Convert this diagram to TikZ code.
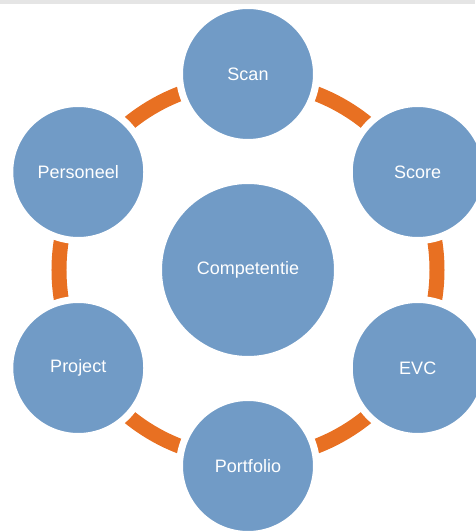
\documentclass[tikz,border=0pt]{standalone}
\usepackage{fontspec}
\setmainfont{Liberation Sans}
\begin{document}
\begin{tikzpicture}[x=1pt,y=1pt,
  bubble/.style={circle,fill=cblue,draw=white,line width=2pt,minimum size=132pt,inner sep=0pt,text=white,font=\fontsize{18}{21}\selectfont},
  hub/.style={bubble,minimum size=174pt},
  conn/.style={draw=corange,line width=15pt,line cap=butt},
  halo/.style={fill=white}]
\definecolor{cblue}{RGB}{113,155,198}
\definecolor{corange}{RGB}{232,112,34}
\definecolor{cgrey}{RGB}{229,229,229}
\useasboundingbox (-248,-262) rectangle (227,270);
\coordinate (c) at (0,0);
\coordinate (pscan) at (90:196);
\coordinate (pscore) at (30:196);
\coordinate (pevc) at (-30:196);
\coordinate (pportfolio) at (-90:196);
\coordinate (pproject) at (-150:196);
\coordinate (ppersoneel) at (150:196);
% connectors: ring arcs, cut back by a white halo round each bubble
\foreach \a in {90,30,-30,-90,-150,150}{
  \draw[conn] ({\a-20}:189) arc[start angle={\a-20}, end angle={\a-40}, radius=189];
}
\foreach \p in {pscan,pscore,pevc,pportfolio,pproject,ppersoneel}{
  \fill[halo] (\p) circle[radius=72];
}
\fill[cgrey] (-248,270) rectangle (227,266);
\node[bubble] (scan) at (pscan) {Scan};
\node[bubble] (score) at (pscore) {Score};
\node[bubble] (evc) at (pevc) {EVC};
\node[bubble] (portfolio) at (pportfolio) {Portfolio};
\node[bubble] (project) at (pproject) {Project};
\node[bubble] (personeel) at (ppersoneel) {Personeel};
\node[hub] (comp) at (c) {Competentie};
\end{tikzpicture}
\end{document}
